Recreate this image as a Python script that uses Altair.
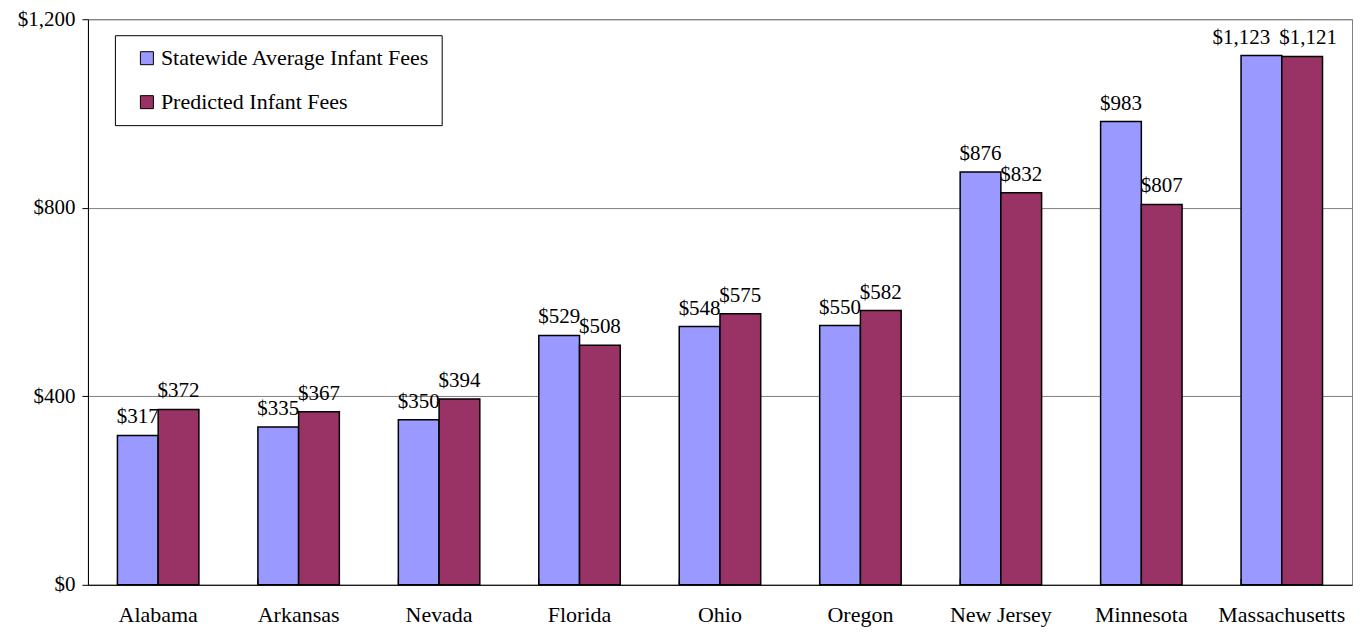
import altair as alt
import pandas as pd

states = ["Alabama", "Arkansas", "Nevada", "Florida", "Ohio", "Oregon",
          "New Jersey", "Minnesota", "Massachusetts"]
statewide = [317, 335, 350, 529, 548, 550, 876, 983, 1123]
predicted = [372, 367, 394, 508, 575, 582, 832, 807, 1121]
series = ["Statewide Average Infant Fees", "Predicted Infant Fees"]
colors = ["#9999FF", "#993366"]
y_ticks = [0, 400, 800, 1200]

rows = []
for s, a, p in zip(states, statewide, predicted):
    rows.append({"State": s, "Series": series[0], "Fee": a})
    rows.append({"State": s, "Series": series[1], "Fee": p})
df = pd.DataFrame(rows)
ticks_df = pd.DataFrame({"State": states})

FONT = "Liberation Serif"

x_enc = alt.X("State:N", sort=states,
              scale=alt.Scale(paddingInner=0.42, paddingOuter=0.21),
              axis=alt.Axis(title=None, ticks=False, labelFontSize=22, labelPadding=20,
                            labelColor="black", labelFont=FONT, domainColor="black",
                            labelAngle=0))
xoff = alt.XOffset("Series:N", sort=series, scale=alt.Scale(paddingInner=0, paddingOuter=0))
y_enc = alt.Y("Fee:Q", scale=alt.Scale(domain=[0, 1200], nice=False),
              axis=alt.Axis(title=None, values=y_ticks, format="$,.0f", labelFontSize=21,
                            labelFont=FONT, labelColor="black", tickSize=6, tickColor="black",
                            domainColor="black", gridColor="#808080", labelPadding=7))

bars = alt.Chart(df).mark_bar(stroke="black", strokeWidth=1.5).encode(
    x=x_enc, xOffset=xoff, y=y_enc,
    color=alt.Color("Series:N", sort=series,
                    scale=alt.Scale(domain=series, range=colors),
                    legend=alt.Legend(title=None, orient="none", legendX=27, legendY=16,
                                      strokeColor="black", fillColor="white", padding=12,
                                      symbolType="square", symbolSize=169,
                                      symbolStrokeColor="black", symbolStrokeWidth=1,
                                      symbolOffset=9, labelOffset=3,
                                      labelFontSize=22, labelFont=FONT, labelColor="black",
                                      rowPadding=22, labelLimit=500, cornerRadius=0)),
)

def label_layer(data_filter, dx):
    return alt.Chart(df).transform_filter(data_filter).mark_text(
        baseline="alphabetic", dy=-12, dx=dx, fontSize=21, font=FONT, color="black"
    ).encode(
        x=alt.X("State:N", sort=states), xOffset=alt.XOffset("Series:N", sort=series),
        y=alt.Y("Fee:Q"), text=alt.Text("Fee:Q", format="$,.0f"),
    )

labels_main = label_layer("datum.State != 'Massachusetts'", 0)
labels_ma_left = label_layer(
    "datum.State == 'Massachusetts' && datum.Series == 'Statewide Average Infant Fees'", -20)
labels_ma_right = label_layer(
    "datum.State == 'Massachusetts' && datum.Series == 'Predicted Infant Fees'", 6)

xticks = alt.Chart(ticks_df).mark_rule(color="black", strokeWidth=1).encode(
    x=alt.X("State:N", sort=states, bandPosition=0),
    y=alt.value(560), y2=alt.value(566),
)

chart = alt.layer(bars, labels_main, labels_ma_left, labels_ma_right, xticks).properties(
    width=1265, height=566,
    autosize=alt.AutoSizeParams(type="none"),
    padding={"left": 80, "top": 11, "right": 10, "bottom": 46},
).configure_view(stroke="#808080", strokeWidth=1).configure_axis(grid=True).configure_axisX(grid=False)

chart.save("out.html", embed_options={"renderer": "svg", "actions": False})
